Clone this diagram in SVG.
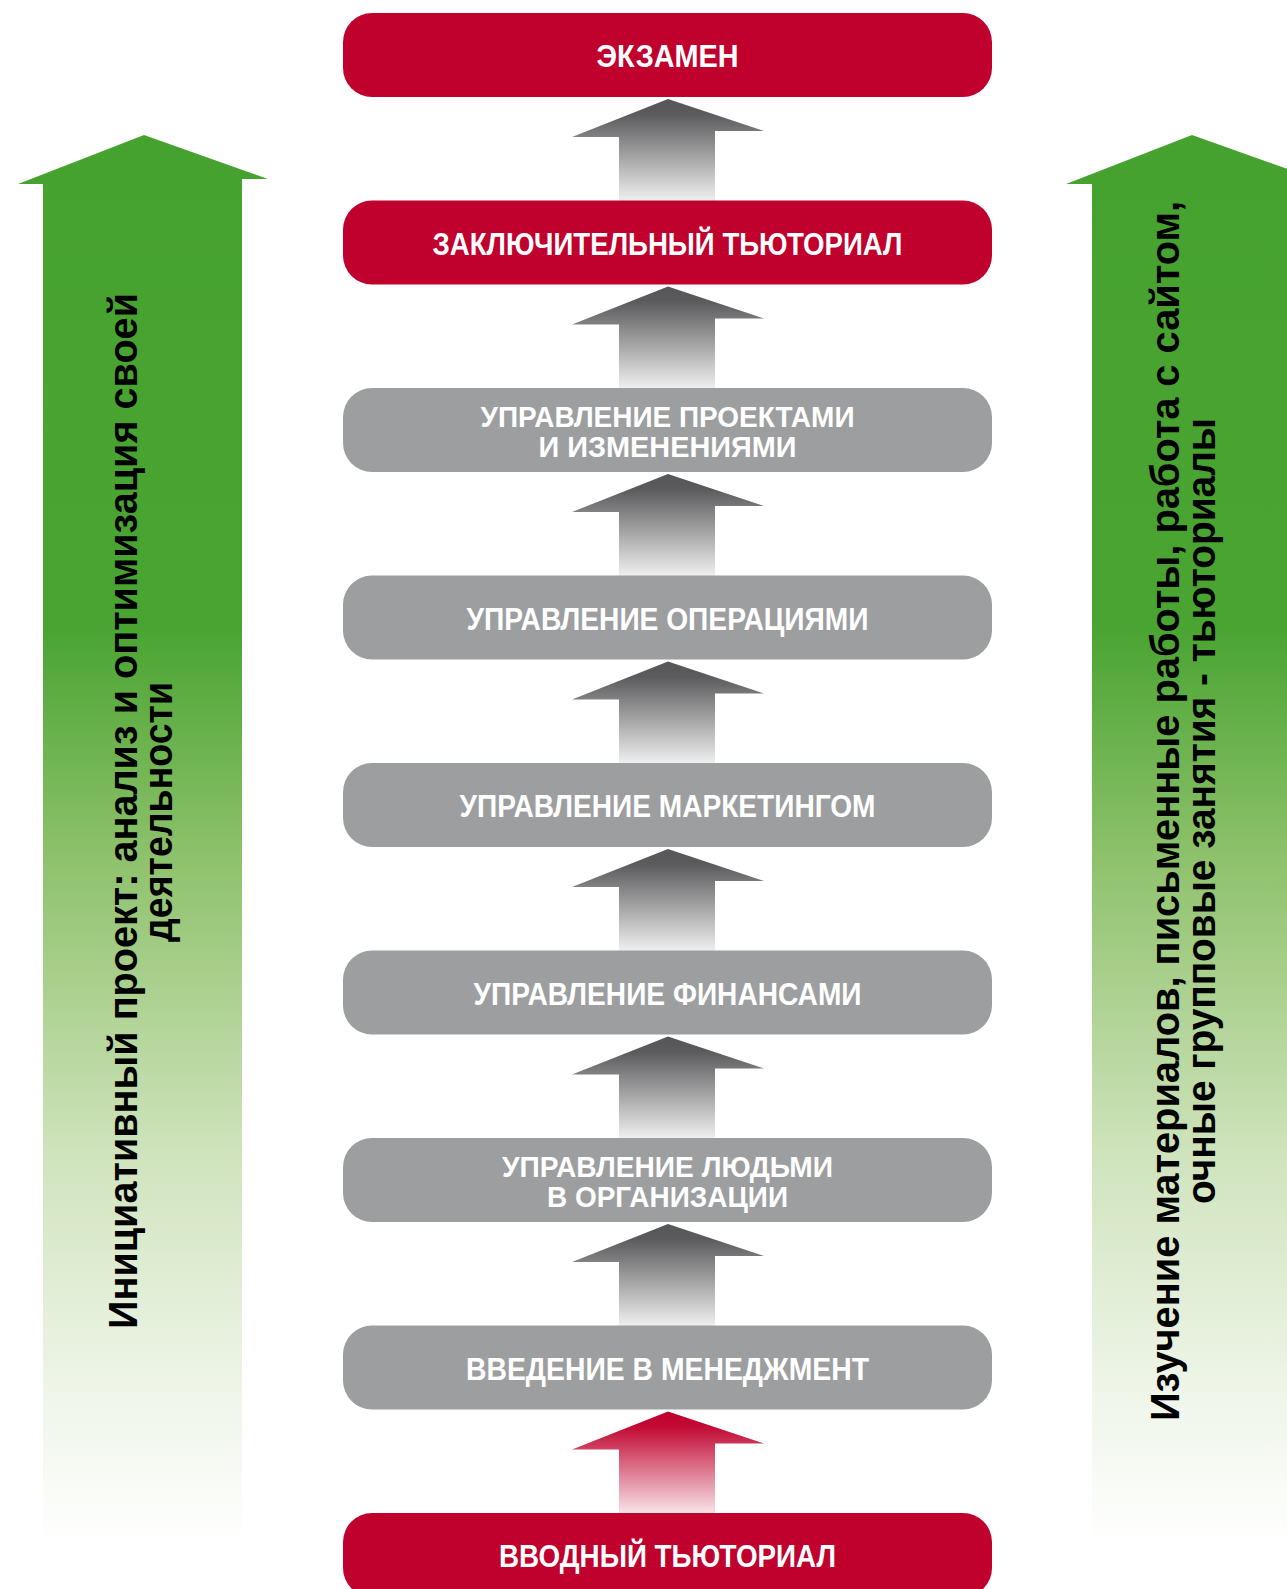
<svg xmlns="http://www.w3.org/2000/svg" width="1287" height="1589" viewBox="0 0 1287 1589">
<defs>
<linearGradient id="gGreen" gradientUnits="userSpaceOnUse" x1="0" y1="135" x2="0" y2="1589">
<stop offset="0" stop-color="#46a22e"/>
<stop offset="0.34" stop-color="#4aa432"/>
<stop offset="0.5" stop-color="#8fc26d"/>
<stop offset="0.7" stop-color="#cfe3bc"/>
<stop offset="0.86" stop-color="#eef5e8"/>
<stop offset="0.97" stop-color="#ffffff"/>
</linearGradient>
<linearGradient id="gGrey" x1="0" y1="0" x2="0" y2="1">
<stop offset="0" stop-color="#565658"/>
<stop offset="0.15" stop-color="#5b5b5d"/>
<stop offset="1" stop-color="#f0f0f0"/>
</linearGradient>
<linearGradient id="gRed" x1="0" y1="0" x2="0" y2="1">
<stop offset="0" stop-color="#c0002c"/>
<stop offset="0.15" stop-color="#c20a34"/>
<stop offset="1" stop-color="#f8e4e9"/>
</linearGradient>
</defs>
<style>
.red{fill:#c0002d}
.grey{fill:#9d9ea0}
.lbl{font-family:"Liberation Sans",Arial,sans-serif;font-weight:bold;font-size:32px;fill:#ffffff;text-anchor:middle}
.lbl2{font-family:"Liberation Sans",Arial,sans-serif;font-weight:bold;font-size:29px;fill:#ffffff;text-anchor:middle}
.side{font-family:"Liberation Sans",Arial,sans-serif;font-weight:bold;font-size:40px;fill:#000000;text-anchor:middle}
.green{fill:url(#gGreen)}
.arr{fill:url(#gGrey)}
.arrRed{fill:url(#gRed)}
</style>
<rect width="1287" height="1589" fill="#ffffff"/>

<g id="left-track">
<polygon class="green" points="144,135 268,179 242,179 242,1589 43,1589 43,184 18,184"/>
<text class="side" transform="translate(137,811) rotate(-90)" textLength="1036" lengthAdjust="spacingAndGlyphs">Инициативный проект: анализ и оптимизация своей</text>
<text class="side" transform="translate(172,812) rotate(-90)" textLength="260" lengthAdjust="spacingAndGlyphs">деятельности</text>
</g>

<g id="right-track">
<polygon class="green" points="1192,135 1316,179 1291,179 1291,1589 1092,1589 1092,184 1066,184"/>
<text class="side" transform="translate(1179,811) rotate(-90)" textLength="1220" lengthAdjust="spacingAndGlyphs">Изучение материалов, письменные работы, работа с сайтом,</text>
<text class="side" transform="translate(1215,811) rotate(-90)" textLength="786" lengthAdjust="spacingAndGlyphs">очные групповые занятия - тьюториалы</text>
</g>

<g id="connectors">
<polygon class="arr" points="668,99 764,131 715,131 715,201 619,201 619,137 572,137"/>
<polygon class="arr" points="668,286.5 764,318.5 715,318.5 715,388.5 619,388.5 619,324.5 572,324.5"/>
<polygon class="arr" points="668,474 764,506 715,506 715,576 619,576 619,512 572,512"/>
<polygon class="arr" points="668,661.5 764,693.5 715,693.5 715,763.5 619,763.5 619,699.5 572,699.5"/>
<polygon class="arr" points="668,849 764,881 715,881 715,951 619,951 619,887 572,887"/>
<polygon class="arr" points="668,1036.5 764,1068.5 715,1068.5 715,1138.5 619,1138.5 619,1074.5 572,1074.5"/>
<polygon class="arr" points="668,1224 764,1256 715,1256 715,1326 619,1326 619,1262 572,1262"/>
<polygon class="arrRed" points="668,1411.5 764,1443.5 715,1443.5 715,1513.5 619,1513.5 619,1449.5 572,1449.5"/>
</g>

<g id="exam">
<rect class="red" x="343" y="13" width="649" height="84" rx="29"/>
<text class="lbl" x="667.5" y="67" textLength="142" lengthAdjust="spacingAndGlyphs">ЭКЗАМЕН</text>
</g>
<g id="final-tutorial">
<rect class="red" x="343" y="200.5" width="649" height="84" rx="29"/>
<text class="lbl" x="667.5" y="255" textLength="470" lengthAdjust="spacingAndGlyphs">ЗАКЛЮЧИТЕЛЬНЫЙ ТЬЮТОРИАЛ</text>
</g>
<g id="projects">
<rect class="grey" x="343" y="388" width="649" height="84" rx="29"/>
<text class="lbl2" x="667.5" y="427" textLength="374" lengthAdjust="spacingAndGlyphs">УПРАВЛЕНИЕ ПРОЕКТАМИ</text>
<text class="lbl2" x="667.5" y="457" textLength="258" lengthAdjust="spacingAndGlyphs">И ИЗМЕНЕНИЯМИ</text>
</g>
<g id="operations">
<rect class="grey" x="343" y="575.5" width="649" height="84" rx="29"/>
<text class="lbl" x="667.5" y="630" textLength="402" lengthAdjust="spacingAndGlyphs">УПРАВЛЕНИЕ ОПЕРАЦИЯМИ</text>
</g>
<g id="marketing">
<rect class="grey" x="343" y="763" width="649" height="84" rx="29"/>
<text class="lbl" x="667.5" y="817" textLength="416" lengthAdjust="spacingAndGlyphs">УПРАВЛЕНИЕ МАРКЕТИНГОМ</text>
</g>
<g id="finance">
<rect class="grey" x="343" y="950.5" width="649" height="84" rx="29"/>
<text class="lbl" x="667.5" y="1005" textLength="388" lengthAdjust="spacingAndGlyphs">УПРАВЛЕНИЕ ФИНАНСАМИ</text>
</g>
<g id="people">
<rect class="grey" x="343" y="1138" width="649" height="84" rx="29"/>
<text class="lbl2" x="667.5" y="1177" textLength="331" lengthAdjust="spacingAndGlyphs">УПРАВЛЕНИЕ ЛЮДЬМИ</text>
<text class="lbl2" x="667.5" y="1207" textLength="241" lengthAdjust="spacingAndGlyphs">В ОРГАНИЗАЦИИ</text>
</g>
<g id="intro-management">
<rect class="grey" x="343" y="1325.5" width="649" height="84" rx="29"/>
<text class="lbl" x="667.5" y="1380" textLength="403" lengthAdjust="spacingAndGlyphs">ВВЕДЕНИЕ В МЕНЕДЖМЕНТ</text>
</g>
<g id="intro-tutorial">
<rect class="red" x="343" y="1513" width="649" height="84" rx="29"/>
<text class="lbl" x="667.5" y="1567" textLength="337" lengthAdjust="spacingAndGlyphs">ВВОДНЫЙ ТЬЮТОРИАЛ</text>
</g>
</svg>
